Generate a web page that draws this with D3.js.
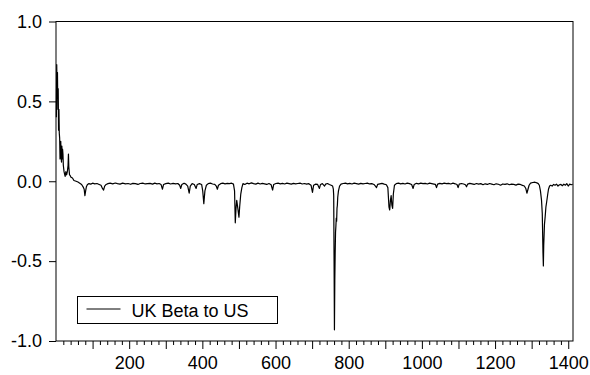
<!DOCTYPE html>
<html>
<head>
<meta charset="utf-8">
<script src="https://cdn.jsdelivr.net/npm/d3@7"></script>
<style>
  html, body { margin: 0; padding: 0; background: #fff; }
  svg text { font-family: Arial, "Liberation Sans", sans-serif; }
</style>
</head>
<body>
<div id="chart"></div>
<script>
const obs = [
  1, 2, 3, 4, 5, 6, 7, 8, 9, 10, 11, 12, 13, 14, 15, 16, 17, 18, 19, 20,
  22, 24, 25, 27, 29, 31, 33, 34, 35, 37, 39, 41, 45, 49, 55, 60, 65, 70, 74, 77,
  79, 81, 83, 86, 90, 95, 100, 106, 112, 118, 123, 127, 130, 133, 137, 142, 148, 155, 162, 168,
  175, 182, 190, 197, 204, 210, 217, 224, 230, 237, 244, 250, 257, 264, 270, 276, 282, 287, 291, 294,
  300, 307, 313, 320, 327, 333, 338, 341, 344, 350, 355, 360, 364, 367, 372, 378, 383, 386, 392, 398,
  401, 404, 407, 411, 416, 422, 428, 434, 438, 441, 444, 450, 456, 462, 468, 474, 480, 485, 488, 490,
  492, 494, 497, 500, 502, 505, 508, 511, 516, 522, 528, 534, 540, 546, 552, 558, 564, 570, 576, 582,
  588, 592, 595, 601, 607, 613, 619, 625, 631, 637, 643, 649, 655, 661, 667, 673, 679, 685, 691, 697,
  701, 704, 710, 715, 720, 723, 728, 734, 737, 742, 747, 752, 756, 758, 759, 760, 761, 762, 763, 764,
  765, 766, 767, 768, 769, 770, 772, 775, 779, 785, 791, 797, 803, 809, 815, 821, 827, 833, 839, 845,
  851, 857, 863, 869, 873, 876, 879, 885, 891, 897, 903, 907, 910, 912, 914, 916, 918, 920, 922, 925,
  930, 936, 942, 948, 954, 960, 966, 972, 976, 979, 985, 991, 997, 1003, 1009, 1015, 1021, 1027, 1033, 1037,
  1040, 1043, 1049, 1055, 1061, 1067, 1073, 1079, 1085, 1091, 1096, 1099, 1102, 1108, 1114, 1119, 1122, 1125, 1131, 1137,
  1143, 1149, 1155, 1161, 1167, 1173, 1179, 1185, 1191, 1197, 1203, 1209, 1215, 1221, 1227, 1233, 1239, 1245, 1251, 1257,
  1263, 1269, 1275, 1280, 1284, 1287, 1290, 1293, 1297, 1303, 1309, 1314, 1318, 1321, 1324, 1327, 1329, 1331, 1332, 1333,
  1335, 1337, 1339, 1341, 1344, 1346, 1349, 1352, 1356, 1360, 1364, 1368, 1372, 1376, 1380, 1384, 1388, 1392, 1396, 1400,
  1404, 1408, 1412
];
const beta = [
  0.40, 0.73, 0.52, 0.68, 0.45, 0.58, 0.32, 0.45, 0.30, 0.27, 0.14, 0.18, 0.25, 0.16, 0.12, 0.22, 0.14, 0.20, 0.17, 0.10,
  0.06, 0.04, 0.03, 0.06, 0.04, 0.06, 0.10, 0.17, 0.09, 0.04, 0.035, 0.025, 0.02, 0.005, 0.0, -0.005, -0.012, -0.02, -0.035, -0.05,
  -0.09, -0.06, -0.035, -0.02, -0.015, -0.018, -0.012, -0.016, -0.014, -0.02, -0.025, -0.045, -0.055, -0.03, -0.02, -0.015, -0.012, -0.016, -0.011, -0.015,
  -0.018, -0.012, -0.016, -0.014, -0.019, -0.013, -0.015, -0.02, -0.014, -0.012, -0.017, -0.015, -0.013, -0.018, -0.012, -0.016, -0.014, -0.02, -0.05, -0.02,
  -0.015, -0.012, -0.017, -0.013, -0.016, -0.014, -0.025, -0.045, -0.02, -0.012, -0.018, -0.03, -0.075, -0.03, -0.015, -0.02, -0.045, -0.02, -0.015, -0.02,
  -0.06, -0.14, -0.06, -0.025, -0.015, -0.012, -0.017, -0.02, -0.03, -0.05, -0.025, -0.015, -0.012, -0.016, -0.013, -0.015, -0.012, -0.018, -0.06, -0.26,
  -0.17, -0.12, -0.17, -0.225, -0.16, -0.08, -0.04, -0.015, -0.02, -0.012, -0.016, -0.01, -0.015, -0.018, -0.012, -0.017, -0.013, -0.016, -0.02, -0.014,
  -0.022, -0.055, -0.02, -0.014, -0.012, -0.016, -0.013, -0.017, -0.012, -0.015, -0.018, -0.013, -0.016, -0.014, -0.012, -0.017, -0.014, -0.018, -0.015, -0.025,
  -0.07, -0.025, -0.018, -0.02, -0.045, -0.02, -0.015, -0.03, -0.018, -0.014, -0.02, -0.025, -0.03, -0.05, -0.09, -0.5, -0.93, -0.62, -0.45, -0.32,
  -0.28, -0.23, -0.25, -0.17, -0.15, -0.1, -0.06, -0.03, -0.018, -0.014, -0.012, -0.016, -0.013, -0.017, -0.012, -0.015, -0.018, -0.013, -0.016, -0.014,
  -0.012, -0.017, -0.015, -0.02, -0.03, -0.04, -0.02, -0.016, -0.013, -0.018, -0.022, -0.04, -0.16, -0.18, -0.12, -0.09, -0.15, -0.17, -0.08, -0.025,
  -0.015, -0.012, -0.016, -0.013, -0.017, -0.012, -0.015, -0.02, -0.045, -0.02, -0.013, -0.016, -0.012, -0.015, -0.013, -0.017, -0.012, -0.015, -0.018, -0.02,
  -0.04, -0.018, -0.013, -0.016, -0.012, -0.015, -0.013, -0.017, -0.012, -0.016, -0.02, -0.04, -0.018, -0.014, -0.017, -0.022, -0.035, -0.018, -0.013, -0.016,
  -0.02, -0.014, -0.018, -0.015, -0.022, -0.016, -0.02, -0.014, -0.018, -0.022, -0.016, -0.019, -0.025, -0.017, -0.02, -0.016, -0.022, -0.018, -0.02, -0.024,
  -0.018, -0.02, -0.026, -0.03, -0.045, -0.075, -0.05, -0.025, -0.012, -0.008, -0.006, -0.01, -0.015, -0.025, -0.06, -0.12, -0.2, -0.45, -0.53, -0.4,
  -0.27, -0.22, -0.16, -0.13, -0.08, -0.05, -0.03, -0.025, -0.03, -0.02, -0.025, -0.018, -0.03, -0.022, -0.02, -0.028, -0.018, -0.025, -0.015, -0.03,
  -0.018, -0.022, -0.02
];
const yTicks = [-1.0, -0.5, 0.0, 0.5, 1.0];
const xLabelTicks = [200, 400, 600, 800, 1000, 1200, 1400];
const seriesName = 'UK Beta to US';

const width = 590, height = 375;
const margin = { top: 21.5, right: 17, bottom: 34, left: 56 };
const innerW = width - margin.left - margin.right;
const innerH = height - margin.top - margin.bottom;

const svg = d3.select('#chart')
  .append('svg')
  .attr('width', width)
  .attr('height', height);

const g = svg.append('g')
  .attr('transform', `translate(${margin.left},${margin.top})`);

const x = d3.scaleLinear().domain([0, 1413]).range([0, innerW]);
const y = d3.scaleLinear().domain([-1, 1]).range([innerH, 0]);

// x axis: minor every 20, major every 100, labels every 200
const minorTicks = d3.range(20, 1413, 20).filter(v => v % 100 !== 0);
const majorTicks = d3.range(100, 1413, 100);

g.append('g')
  .attr('transform', `translate(0,${innerH})`)
  .call(d3.axisBottom(x).tickValues(minorTicks).tickSize(4).tickFormat(''))
  .call(a => a.select('.domain').remove());

g.append('g')
  .attr('transform', `translate(0,${innerH})`)
  .call(d3.axisBottom(x).tickValues(majorTicks).tickSize(8).tickFormat(''))
  .call(a => a.select('.domain').remove());

g.append('g')
  .attr('transform', `translate(0,${innerH})`)
  .call(d3.axisBottom(x).tickValues(xLabelTicks).tickSize(0).tickPadding(15).tickFormat(d => String(d)))
  .call(a => a.select('.domain').remove())
  .call(a => a.selectAll('text').style('font-size', '18px').attr('fill', '#000'));

// plain hyphen for negatives, as in the original
g.append('g')
  .call(d3.axisLeft(y).tickValues(yTicks).tickSize(7).tickPadding(7).tickFormat(d => d.toFixed(1)))
  .call(a => a.select('.domain').remove())
  .call(a => a.selectAll('text').style('font-size', '18px').attr('fill', '#000'));

g.selectAll('.tick line').attr('stroke', '#000');

// frame
g.append('rect')
  .attr('width', innerW)
  .attr('height', innerH)
  .attr('fill', 'none')
  .attr('stroke', '#000')
  .attr('stroke-width', 1);

const line = d3.line()
  .x((d, i) => x(obs[i]))
  .y(d => y(d));

g.append('path')
  .datum(beta)
  .attr('fill', 'none')
  .attr('stroke', '#000')
  .attr('stroke-width', 1.2)
  .attr('stroke-linejoin', 'round')
  .attr('d', line);

// legend
const lg = svg.append('g').attr('transform', 'translate(77.5,296.5)');
lg.append('rect')
  .attr('width', 200)
  .attr('height', 27)
  .attr('fill', '#fff')
  .attr('stroke', '#000');
lg.append('line')
  .attr('x1', 9).attr('x2', 43)
  .attr('y1', 12.5).attr('y2', 12.5)
  .attr('stroke', '#000');
lg.append('text')
  .attr('x', 54)
  .attr('y', 20)
  .style('font-size', '18px')
  .text(seriesName);
</script>
</body>
</html>
